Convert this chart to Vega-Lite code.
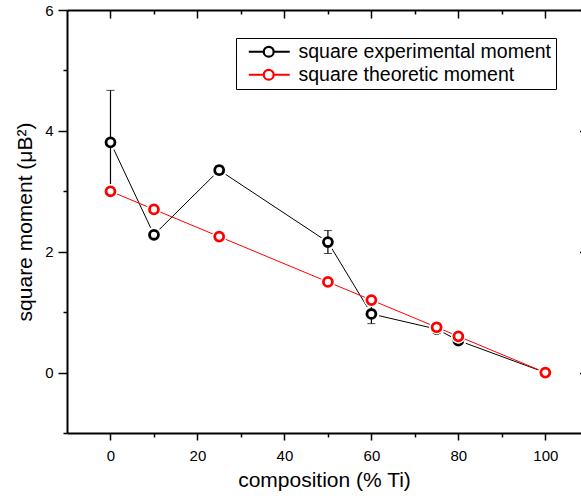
{
  "$schema": "https://vega.github.io/schema/vega-lite/v6.json",
  "width": 514,
  "height": 423,
  "autosize": {"type": "none"},
  "padding": {"left": 67, "top": 10, "right": 0, "bottom": 66},
  "background": "white",
  "config": {
    "view": {"stroke": null},
    "font": "Liberation Sans",
    "axis": {
      "grid": false,
      "domainColor": "black",
      "domainWidth": 2,
      "tickColor": "black",
      "tickWidth": 1.5,
      "labelColor": "black",
      "labelFont": "Liberation Sans",
      "labelFontSize": 15,
      "labelFlush": false,
      "labelOverlap": false,
      "titleColor": "black",
      "titleFont": "Liberation Sans",
      "titleFontSize": 21,
      "titleFontWeight": "normal"
    }
  },
  "datasets": {
    "pts": [
      {"comp": 0, "series": "square experimental moment", "m": 3.81, "lo": 2.98, "hi": 4.67},
      {"comp": 10, "series": "square experimental moment", "m": 2.28, "lo": 2.23, "hi": 2.33},
      {"comp": 25, "series": "square experimental moment", "m": 3.35, "lo": 3.28, "hi": 3.42},
      {"comp": 50, "series": "square experimental moment", "m": 2.16, "lo": 1.97, "hi": 2.35},
      {"comp": 60, "series": "square experimental moment", "m": 0.97, "lo": 0.81, "hi": 1.12},
      {"comp": 75, "series": "square experimental moment", "m": 0.72, "lo": 0.68, "hi": 0.76},
      {"comp": 80, "series": "square experimental moment", "m": 0.53, "lo": 0.49, "hi": 0.57},
      {"comp": 100, "series": "square experimental moment", "m": 0.0, "lo": 0.0, "hi": 0.0},
      {"comp": 0, "series": "square theoretic moment", "m": 3.0},
      {"comp": 10, "series": "square theoretic moment", "m": 2.7},
      {"comp": 25, "series": "square theoretic moment", "m": 2.25},
      {"comp": 50, "series": "square theoretic moment", "m": 1.5},
      {"comp": 60, "series": "square theoretic moment", "m": 1.2},
      {"comp": 75, "series": "square theoretic moment", "m": 0.75},
      {"comp": 80, "series": "square theoretic moment", "m": 0.6},
      {"comp": 100, "series": "square theoretic moment", "m": 0.0}
    ]
  },
  "data": {"name": "pts"},
  "resolve": {"axis": {"x": "independent", "y": "independent"}},
  "layer": [
    {
      "transform": [{"filter": "datum.series === 'square experimental moment'"}],
      "mark": {"type": "line", "strokeWidth": 1},
      "encoding": {
        "x": {
          "field": "comp", "type": "quantitative",
          "scale": {"domain": [-10, 108.2], "nice": false, "zero": false},
          "axis": {
            "orient": "bottom",
            "values": [0, 10, 20, 30, 40, 50, 60, 70, 80, 90, 100],
            "labelExpr": "datum.value % 20 === 0 ? datum.label : ''",
            "tickSize": {"condition": {"test": "datum.value % 20 === 0", "value": 7}, "value": 4},
            "labelPadding": 8,
            "title": "composition (% Ti)",
            "titlePadding": 6
          }
        },
        "y": {
          "field": "m", "type": "quantitative",
          "scale": {"domain": [-1, 6], "nice": false, "zero": false},
          "axis": {
            "orient": "left",
            "values": [-1, 0, 1, 2, 3, 4, 5, 6],
            "labelExpr": "datum.value % 2 === 0 ? datum.label : ''",
            "tickSize": {"condition": {"test": "datum.value % 2 === 0", "value": 9}, "value": 4},
            "labelPadding": 5,
            "title": "square moment (μB²)",
            "titlePadding": 9
          }
        },
        "color": {
          "field": "series", "type": "nominal",
          "scale": {"domain": ["square experimental moment", "square theoretic moment"], "range": ["black", "#ff0000"]},
          "legend": {
            "title": null,
            "orient": "none",
            "legendX": 169,
            "legendY": 28,
            "padding": 4,
            "strokeColor": "black",
            "fillColor": "white",
            "labelFont": "Liberation Sans",
            "labelFontSize": 19.5,
            "labelColor": "black",
            "labelLimit": 500,
            "labelOffset": 39,
            "rowPadding": 2,
            "symbolType": "M -0.14 0 L 2.0 0 M 3.42 0 L 5.71 0 M 2.0 0 A 0.71 0.71 0 1 0 3.42 0 A 0.71 0.71 0 1 0 2.0 0",
            "symbolSize": 196,
            "symbolStrokeWidth": 2.2,
            "symbolFillColor": "white"
          }
        }
      }
    },
    {
      "transform": [{"filter": "datum.series === 'square experimental moment'"}],
      "mark": {"type": "point", "filled": true, "shape": "circle", "size": 250, "color": "white", "opacity": 1, "strokeWidth": 0},
      "encoding": {
        "x": {"field": "comp", "type": "quantitative", "axis": null},
        "y": {"field": "m", "type": "quantitative", "axis": null}
      }
    },
    {
      "transform": [{"filter": "datum.series === 'square experimental moment'"}],
      "mark": {"type": "errorbar", "color": "black", "ticks": {"size": 8, "color": "black", "strokeWidth": 1}, "rule": {"strokeWidth": 1.2}},
      "encoding": {
        "x": {"field": "comp", "type": "quantitative", "axis": null},
        "y": {"field": "lo", "type": "quantitative", "axis": null},
        "y2": {"field": "hi"}
      }
    },
    {
      "transform": [{"filter": "datum.series === 'square experimental moment'"}],
      "mark": {"type": "point", "filled": false, "shape": "circle", "size": 80, "color": "black", "strokeWidth": 2.8, "opacity": 1, "fill": "white", "fillOpacity": 1},
      "encoding": {
        "x": {"field": "comp", "type": "quantitative", "axis": null},
        "y": {"field": "m", "type": "quantitative", "axis": null}
      }
    },
    {
      "transform": [{"filter": "datum.series === 'square theoretic moment'"}],
      "mark": {"type": "line", "strokeWidth": 1},
      "encoding": {
        "x": {
          "field": "comp", "type": "quantitative",
          "axis": {
            "orient": "top",
            "values": [0, 10, 20, 30, 40, 50, 60, 70, 80, 90, 100],
            "labels": false,
            "tickSize": {"condition": {"test": "datum.value % 20 === 0", "value": -8}, "value": -4},
            "title": null
          }
        },
        "y": {
          "field": "m", "type": "quantitative",
          "axis": {
            "orient": "right",
            "values": [0, 2, 4, 6],
            "labels": false,
            "domain": false,
            "tickSize": -1.5,
            "title": null
          }
        },
        "color": {"field": "series", "type": "nominal"}
      }
    },
    {
      "transform": [{"filter": "datum.series === 'square theoretic moment'"}],
      "mark": {"type": "point", "filled": true, "shape": "circle", "size": 210, "color": "white", "opacity": 1, "strokeWidth": 0},
      "encoding": {
        "x": {"field": "comp", "type": "quantitative", "axis": null},
        "y": {"field": "m", "type": "quantitative", "axis": null}
      }
    },
    {
      "transform": [{"filter": "datum.series === 'square theoretic moment'"}],
      "mark": {"type": "point", "filled": false, "shape": "circle", "size": 80, "color": "#ff0000", "strokeWidth": 2.8, "opacity": 1, "fill": "white", "fillOpacity": 1},
      "encoding": {
        "x": {"field": "comp", "type": "quantitative", "axis": null},
        "y": {"field": "m", "type": "quantitative", "axis": null}
      }
    }
  ]
}
